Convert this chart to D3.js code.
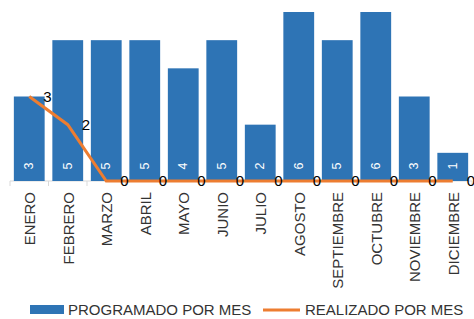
<!DOCTYPE html>
<html>
<head>
<meta charset="utf-8">
<script src="https://cdn.jsdelivr.net/npm/d3@7"></script>
<style>
  body { margin: 0; background: #fff; }
  text { font-family: "Liberation Sans", Arial, sans-serif; }
</style>
</head>
<body>
<div id="chart"></div>
<script>
const months = ["ENERO", "FEBRERO", "MARZO", "ABRIL", "MAYO", "JUNIO", "JULIO",
    "AGOSTO", "SEPTIEMBRE", "OCTUBRE", "NOVIEMBRE", "DICIEMBRE"];
const programado = [3, 5, 5, 5, 4, 5, 2, 6, 5, 6, 3, 1];
const realizado = [3, 2, 0, 0, 0, 0, 0, 0, 0, 0, 0, 0];
const seriesNames = ["PROGRAMADO POR MES", "REALIZADO POR MES"];

const width = 474, height = 319;
const blue = "#2E74B5", orange = "#ED7D31";

const svg = d3.select("#chart").append("svg")
    .attr("width", width)
    .attr("height", height);

const x = d3.scaleBand()
    .domain(months)
    .range([10, 472])
    .paddingInner(0.2)
    .paddingOuter(0.1);

const y = d3.scaleLinear()
    .domain([0, 6])
    .range([181, 12]);

// axis line + tick marks at band edges
svg.append("line")
    .attr("x1", 10).attr("x2", 472)
    .attr("y1", y(0)).attr("y2", y(0))
    .attr("stroke", "#d9d9d9");

svg.selectAll("line.tick")
    .data(d3.range(months.length + 1))
    .enter().append("line")
    .attr("class", "tick")
    .attr("x1", i => 10 + i * x.step())
    .attr("x2", i => 10 + i * x.step())
    .attr("y1", y(0)).attr("y2", y(0) + 5)
    .attr("stroke", "#d9d9d9");

// bars
svg.selectAll("rect.bar")
    .data(programado)
    .enter().append("rect")
    .attr("class", "bar")
    .attr("x", (d, i) => x(months[i]))
    .attr("y", d => y(d))
    .attr("width", x.bandwidth())
    .attr("height", d => y(0) - y(d))
    .attr("fill", blue);

// bar value labels
svg.selectAll("text.barlabel")
    .data(programado)
    .enter().append("text")
    .attr("class", "barlabel")
    .attr("transform", (d, i) => `translate(${x(months[i]) + x.bandwidth() / 2 + 4},${y(0) - 15}) rotate(-90)`)
    .attr("text-anchor", "middle")
    .attr("fill", "#fff")
    .attr("font-size", 12.5)
    .text(d => d);

// month labels
svg.selectAll("text.month")
    .data(months)
    .enter().append("text")
    .attr("class", "month")
    .attr("transform", d => `translate(${x(d) + x.bandwidth() / 2 + 6},${y(0) + 11}) rotate(-90)`)
    .attr("text-anchor", "end")
    .attr("fill", "#333")
    .attr("font-size", 15)
    .text(d => d);

// line
const cx = i => x(months[i]) + x.bandwidth() / 2;
const line = d3.line()
    .x((d, i) => cx(i))
    .y(d => y(d));

svg.append("path")
    .datum(realizado)
    .attr("d", line)
    .attr("fill", "none")
    .attr("stroke", orange)
    .attr("stroke-width", 3);

svg.selectAll("text.linelabel")
    .data(realizado)
    .enter().append("text")
    .attr("class", "linelabel")
    .attr("x", (d, i) => cx(i) + 14)
    .attr("y", d => y(d) + 5)
    .attr("fill", "#000")
    .attr("font-size", 15)
    .text(d => d);

// legend
const leg = svg.append("g").attr("transform", "translate(0,310)");
leg.append("rect")
    .attr("x", 30).attr("y", -5)
    .attr("width", 34).attr("height", 9)
    .attr("fill", blue);
leg.append("text")
    .attr("x", 68).attr("y", 5)
    .attr("font-size", 15)
    .attr("fill", "#333")
    .text(seriesNames[0]);
leg.append("line")
    .attr("x1", 263).attr("x2", 300)
    .attr("y1", 0).attr("y2", 0)
    .attr("stroke", orange)
    .attr("stroke-width", 3);
leg.append("text")
    .attr("x", 305).attr("y", 5)
    .attr("font-size", 15)
    .attr("fill", "#333")
    .text(seriesNames[1]);
</script>
</body>
</html>
